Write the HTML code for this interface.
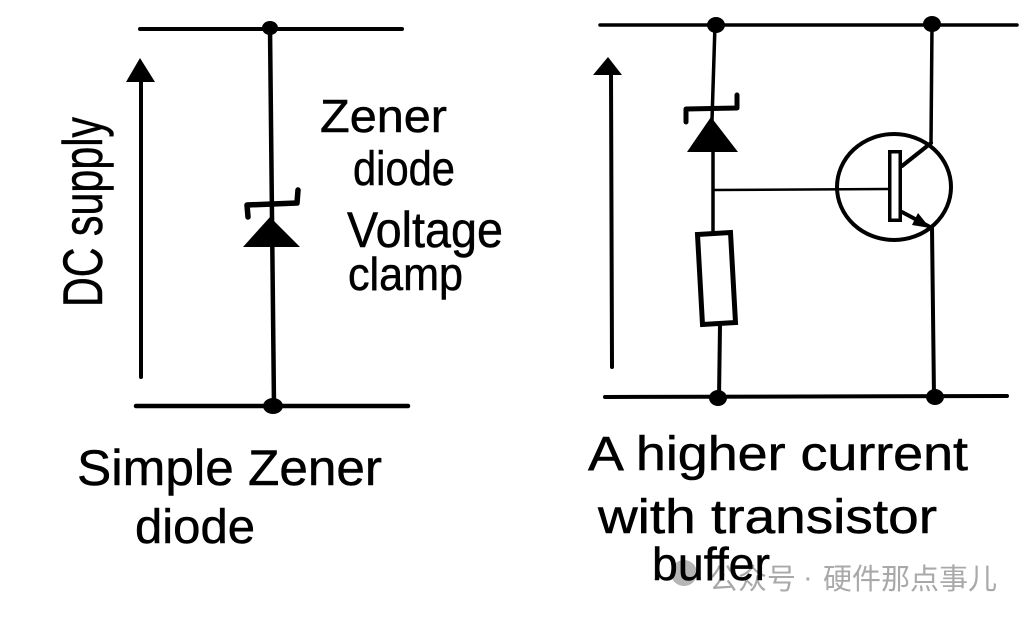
<!DOCTYPE html>
<html>
<head>
<meta charset="utf-8">
<style>
  html, body { margin: 0; padding: 0; background: #fff; }
  body { width: 1030px; height: 618px; overflow: hidden; }
  svg { display: block; }
  .hw { font-family: "Liberation Sans", "DejaVu Sans", sans-serif; fill: #000; stroke: #000; stroke-width: 0.5; }
  .wm { font-family: "Liberation Sans", "Noto Sans CJK SC", "WenQuanYi Zen Hei", sans-serif; fill: #a9a9a9; }
</style>
</head>
<body>
<svg width="1030" height="618" viewBox="0 0 1030 618" xmlns="http://www.w3.org/2000/svg">
  <rect x="0" y="0" width="1030" height="618" fill="#fff"/>

  <!-- ============ LEFT CIRCUIT ============ -->
  <g stroke="#000" stroke-linecap="round" fill="none">
    <line x1="140" y1="29" x2="402" y2="29" stroke-width="4"/>
    <line x1="136" y1="406" x2="408" y2="406" stroke-width="4.5"/>
    <line x1="270" y1="28" x2="274" y2="406" stroke-width="4.5"/>
    <polyline points="248,217 247,205 297,203 298,190" stroke-width="5.5" stroke-linejoin="round"/>
    <line x1="141" y1="377" x2="141" y2="78" stroke-width="4"/>
  </g>
  <polygon points="270,217 243,247 300,247" fill="#000"/>
  <polygon points="140,58 126,82 155,82" fill="#000"/>
  <ellipse cx="270" cy="28" rx="8" ry="7" fill="#000"/>
  <ellipse cx="273" cy="406" rx="10" ry="8" fill="#000"/>

  <!-- left labels -->
  <text class="hw" x="320" y="132" font-size="46" textLength="127" lengthAdjust="spacingAndGlyphs">Zener</text>
  <text class="hw" x="353" y="185" font-size="48" textLength="102" lengthAdjust="spacingAndGlyphs">diode</text>
  <text class="hw" x="347" y="247" font-size="50" textLength="156" lengthAdjust="spacingAndGlyphs">Voltage</text>
  <text class="hw" x="348" y="290" font-size="46" textLength="115" lengthAdjust="spacingAndGlyphs">clamp</text>
  <text class="hw" transform="translate(102,307) rotate(-90)" x="0" y="0" font-size="56" textLength="190" lengthAdjust="spacingAndGlyphs">DC supply</text>

  <!-- ============ RIGHT CIRCUIT ============ -->
  <g stroke="#000" stroke-linecap="round" fill="none">
    <line x1="600" y1="25" x2="1017" y2="25" stroke-width="3.5"/>
    <line x1="605" y1="397" x2="1007" y2="396" stroke-width="4"/>
    <line x1="715" y1="25" x2="712" y2="120" stroke-width="3.5"/>
    <line x1="713" y1="150" x2="713" y2="233" stroke-width="3.5"/>
    <line x1="720" y1="325" x2="719" y2="398" stroke-width="4"/>
    <polyline points="686,122 686,109 737,108 737,95" stroke-width="5" stroke-linejoin="round"/>
    <line x1="714" y1="190" x2="888" y2="189" stroke-width="2.5"/>
    <polygon points="697.5,234.5 730.5,232.5 735.5,322.5 702.5,324.5" stroke-width="5" fill="#fff" stroke-linejoin="miter"/>
    <ellipse cx="894" cy="187" rx="57" ry="53" stroke-width="4"/>
    <line x1="932" y1="25" x2="931" y2="143" stroke-width="3.5"/>
    <line x1="902" y1="166" x2="931" y2="143" stroke-width="4"/>
    <line x1="902" y1="212" x2="930" y2="227" stroke-width="4"/>
    <line x1="932" y1="228" x2="934" y2="397" stroke-width="4"/>
    <line x1="612" y1="367" x2="611" y2="72" stroke-width="4"/>
  </g>
  <rect x="889.75" y="151.75" width="10.5" height="68.5" fill="#fff" stroke="#000" stroke-width="3.5"/>
  <polygon points="930,228 912,225 918,213" fill="#000"/>
  <polygon points="711,117 687,152 738,152" fill="#000"/>
  <polygon points="608,57 593,75 622,75" fill="#000"/>
  <ellipse cx="716" cy="25" rx="9" ry="8" fill="#000"/>
  <ellipse cx="932" cy="24" rx="9" ry="8" fill="#000"/>
  <ellipse cx="718" cy="398" rx="9" ry="8" fill="#000"/>
  <ellipse cx="935" cy="397" rx="9" ry="8" fill="#000"/>

  <!-- bottom labels -->
  <text class="hw" x="77" y="485" font-size="50" textLength="305" lengthAdjust="spacingAndGlyphs">Simple Zener</text>
  <text class="hw" x="135" y="543" font-size="48" textLength="120" lengthAdjust="spacingAndGlyphs">diode</text>
  <text class="hw" x="588" y="470" font-size="48" textLength="380" lengthAdjust="spacingAndGlyphs">A higher current</text>
  <text class="hw" x="598" y="533" font-size="48" textLength="339" lengthAdjust="spacingAndGlyphs">with transistor</text>

  <!-- watermark -->
  <circle cx="684" cy="573" r="13" fill="#b5b5b5"/>
  <text class="wm" x="709" y="589" font-size="29" textLength="87" lengthAdjust="spacingAndGlyphs">公众号</text>
  <text class="wm" x="803" y="587" font-size="29">·</text>
  <text class="wm" x="823" y="589" font-size="29" textLength="174" lengthAdjust="spacingAndGlyphs">硬件那点事儿</text>

  <text class="hw" x="652" y="580" font-size="46" textLength="118" lengthAdjust="spacingAndGlyphs">buffer</text>
</svg>
</body>
</html>
